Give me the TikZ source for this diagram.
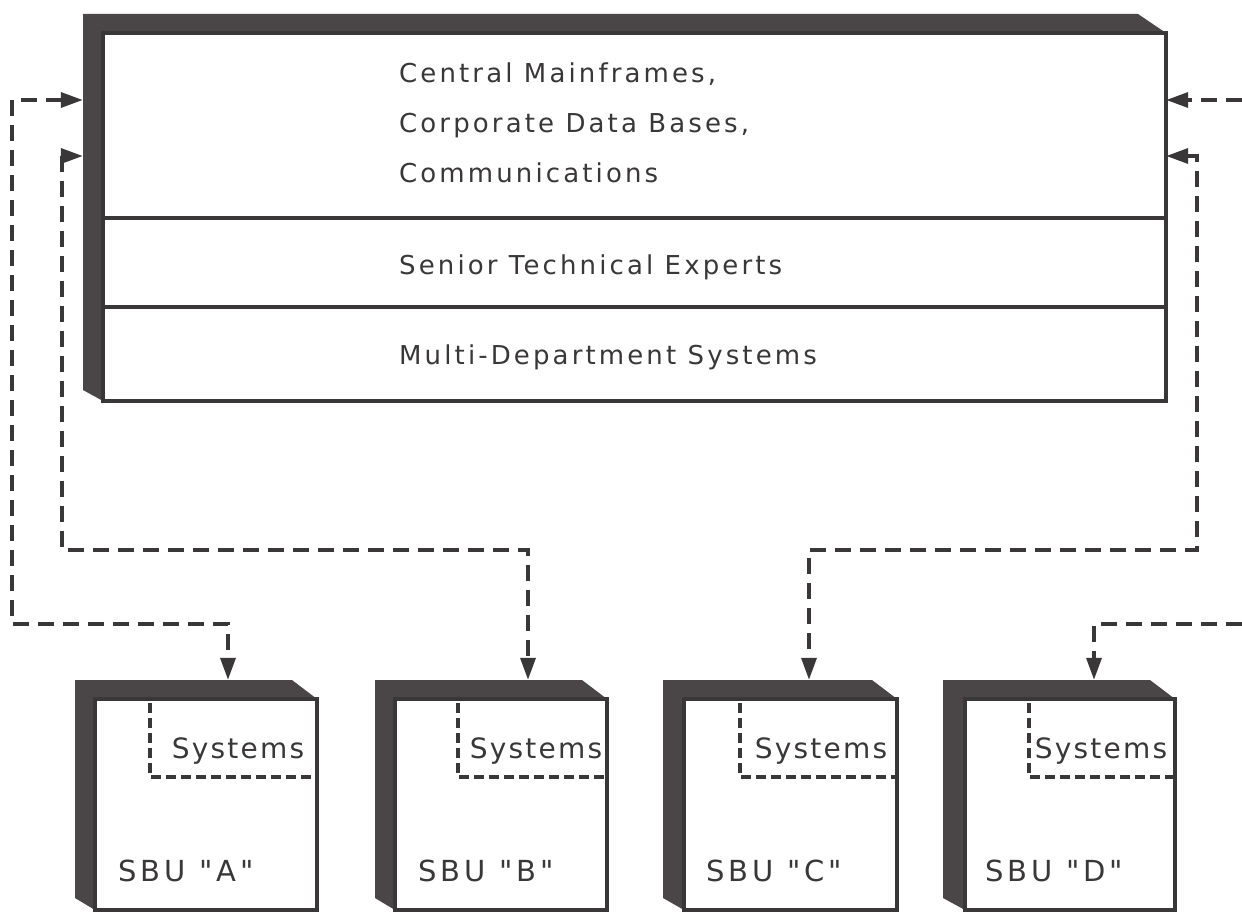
\documentclass[tikz,border=0pt]{standalone}
\usepackage{fontspec}
\newfontfamily\diagfont{DejaVu Sans}[LetterSpace=12]
\newfontfamily\sbufont{DejaVu Sans}[LetterSpace=14]
\newfontfamily\sysfont{DejaVu Sans}[LetterSpace=8]
\usetikzlibrary{arrows.meta,calc}
\definecolor{ink}{RGB}{58,55,57}
\definecolor{band}{RGB}{74,70,72}
\tikzset{
  conn/.style={draw=ink,line width=3.4pt,dash pattern=on 16pt off 9pt,
    >={Triangle[length=22pt,width=15pt]}},
  sysline/.style={draw=ink,line width=3.2pt,dash pattern=on 10pt off 5pt},
  frame/.style={draw=ink,line width=3.4pt},
  bandfill/.style={fill=band,draw=none},
  maintext/.style={anchor=base west,inner sep=0pt,text=ink,font=\diagfont\fontsize{26}{30}\selectfont},
  systext/.style={anchor=base,inner sep=0pt,text=ink,font=\sysfont\fontsize{28}{32}\selectfont},
  sbutext/.style={anchor=base west,inner sep=0pt,text=ink,font=\sbufont\fontsize{29}{33}\selectfont},
  boxarea/.style={draw=none,inner sep=0pt,minimum width=#1},
}
\begin{document}
\begin{tikzpicture}[x=1pt,y=-1pt]
\useasboundingbox (0,0) rectangle (1242,912);
\fill[white] (0,0) rectangle (1242,912);
% ---- main box ----
\node[boxarea=1083pt,minimum height=387pt] (main) at (624.5,207.5) {};
\fill[bandfill] (83,14) -- (1138,14) -- (1166,33) -- (103,33) -- (103,401) -- (83,390) -- cycle;
\draw[frame] (103,33) rectangle (1166,401);
\draw[frame] (103,218) -- (1166,218);
\draw[frame] (103,307) -- (1166,307);
\node[maintext] (t1) at (399,83) {Central Mainframes,};
\node[maintext] (t2) at (399,133) {Corporate Data Bases,};
\node[maintext] (t3) at (399,183) {Communications};
\node[maintext] (t4) at (399,274) {Senior Technical Experts};
\node[maintext] (t5) at (399,364) {Multi-Department Systems};
% ---- SBU boxes ----
\node[boxarea=242pt,minimum height=230pt] (sbuA) at (196,795) {};
\node[boxarea=232pt,minimum height=230pt] (sbuB) at (491,795) {};
\node[boxarea=234pt,minimum height=230pt] (sbuC) at (780,795) {};
\node[boxarea=232pt,minimum height=230pt] (sbuD) at (1059,795) {};
% A
\fill[bandfill] (75,680) -- (292,680) -- (317,699) -- (95,699) -- (95,910) -- (75,898) -- cycle;
\draw[frame] (95,699) rectangle (317,910);
\draw[sysline] (150,703) -- (150,777) -- (317,777);
\node[systext] (sA) at (238,758) {Systems};
\node[sbutext] (lA) at (118,881) {SBU "A"};
% B
\fill[bandfill] (375,680) -- (582,680) -- (607,699) -- (395,699) -- (395,910) -- (375,898) -- cycle;
\draw[frame] (395,699) rectangle (607,910);
\draw[sysline] (458,703) -- (458,777) -- (607,777);
\node[systext] (sB) at (536,758) {Systems};
\node[sbutext] (lB) at (418,881) {SBU "B"};
% C
\fill[bandfill] (663,680) -- (872,680) -- (897,699) -- (684,699) -- (684,910) -- (663,898) -- cycle;
\draw[frame] (684,699) rectangle (897,910);
\draw[sysline] (740,703) -- (740,777) -- (897,777);
\node[systext] (sC) at (821,758) {Systems};
\node[sbutext] (lC) at (706,881) {SBU "C"};
% D
\fill[bandfill] (943,680) -- (1150,680) -- (1175,699) -- (965,699) -- (965,910) -- (943,898) -- cycle;
\draw[frame] (965,699) rectangle (1175,910);
\draw[sysline] (1029,703) -- (1029,777) -- (1175,777);
\node[systext] (sD) at (1101,758) {Systems};
\node[sbutext] (lD) at (985,881) {SBU "D"};
% ---- connectors ----
\coordinate (edgeT) at (1242,100);
\coordinate (edgeB) at (1242,624);
\draw[conn,<->] (main.west |- 0,100) -- (12,100) -- (12,624) -- (228,624) -- (228,0 |- sbuA.north);
\draw[conn,<->] (main.west |- 0,156) -- (62,156) -- (62,550) -- (528,550) -- (528,0 |- sbuB.north);
\draw[conn,<->] (main.east |- 0,156) -- (1197,156) -- (1197,550) -- (809,550) -- (809,0 |- sbuC.north);
\draw[conn,->] (edgeT) -- (main.east |- 0,100);
\draw[conn,->] (edgeB) -- (1094,624) -- (1094,0 |- sbuD.north);
\end{tikzpicture}
\end{document}
